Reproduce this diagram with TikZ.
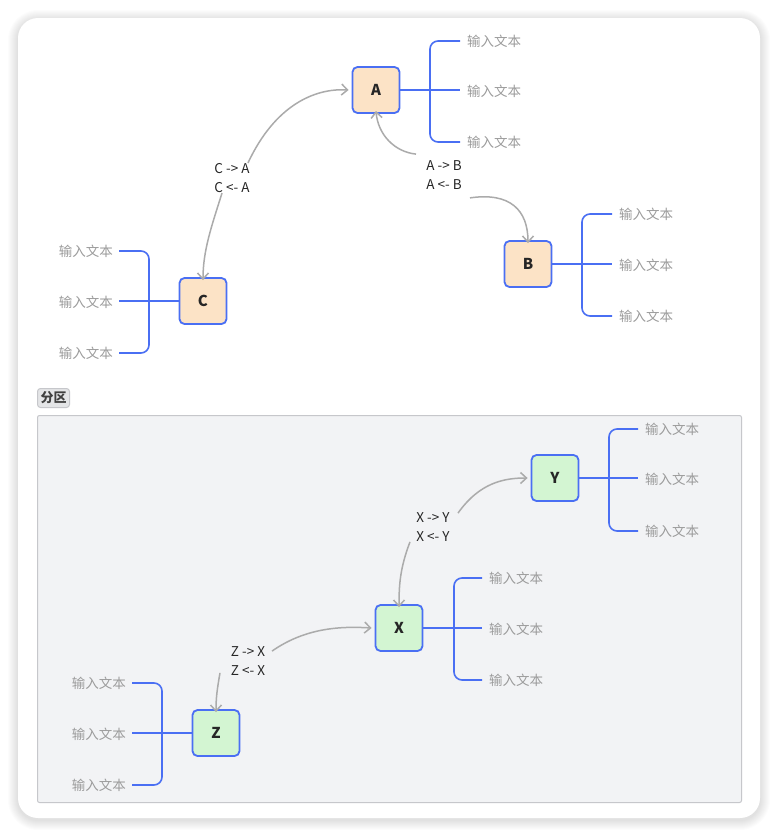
\documentclass[tikz,border=0pt]{standalone}
\usepackage{fontspec}
\setmainfont{Noto Sans CJK SC}
\usetikzlibrary{calc,arrows.meta}
\definecolor{bblue}{HTML}{4A6FF3}
\definecolor{peach}{HTML}{FCE3C6}
\definecolor{mint}{HTML}{D3F5D2}
\definecolor{tgray}{HTML}{9B9B9B}
\definecolor{agray}{HTML}{ABABAB}
\definecolor{secfill}{HTML}{F2F3F5}
\definecolor{secline}{HTML}{C6C7CB}
\tikzset{
  x=1pt,y=-1pt,
  topic/.style={draw=bblue,line width=1.8pt,rounded corners=5pt,minimum width=47pt,minimum height=46pt,inner sep=0pt,font=\fontsize{15}{17}\selectfont\bfseries,text=black!85},
  orange/.style={topic,fill=peach},
  green/.style={topic,fill=mint},
  leaf/.style={inner sep=0pt,text=tgray,font=\fontsize{13.5}{15}\selectfont},
  br/.style={draw=bblue,line width=1.6pt,rounded corners=8pt},
  brs/.style={draw=bblue,line width=1.6pt},
  rel/.style={draw=agray,line width=1.5pt,->,>={Straight Barb[length=6pt,width=11pt]}},
  rlabel/.style={inner sep=2pt,align=center,text=black!85,font=\fontsize{13.5}{19.5}\selectfont},
}
\begin{document}
\begin{tikzpicture}
\useasboundingbox (0,0) rectangle (778,836);
% shadow
\foreach \i in {1,...,10}{
  \fill[black,opacity=0.013,rounded corners={20pt+\i pt}] (18-\i,18-\i+2) rectangle (760+\i,818+\i+2);
}
\fill[white,rounded corners=20pt] (18,18) rectangle (760,818);
% section
\node[draw=secline,fill=secfill,line width=1pt,rounded corners=2pt,minimum width=704pt,minimum height=387pt,anchor=north west,inner sep=0pt] (sec) at (37,415) {};
\node[draw=secline,fill=secfill!88!gray,line width=1pt,rounded corners=3pt,inner xsep=3pt,inner ysep=2pt,minimum height=19pt,anchor=north west,font=\fontsize{13}{14}\selectfont\bfseries,text=black!75] (tag) at (37,388) {分区};

% topics
\node[orange] (A) at (376,90) {A};
\node[orange] (B) at (528,264) {B};
\node[orange] (C) at (203,301) {C};
\node[green] (Y) at (555,478) {Y};
\node[green] (X) at (399,628) {X};
\node[green] (Z) at (216,733) {Z};

% leaves right of A
\node[leaf,anchor=west] (a1) at (467,41) {输入文本};
\node[leaf,anchor=west] (a2) at (467,91) {输入文本};
\node[leaf,anchor=west] (a3) at (467,142) {输入文本};
\draw[br] ([xshift=-7pt]a1.west) -| (430,90) |- ([xshift=-7pt]a3.west);
\draw[brs] (A.east) -- ($(A.east -| a2.west)+(-7,0)$);
% B
\node[leaf,anchor=west] (b1) at (619,214) {输入文本};
\node[leaf,anchor=west] (b2) at (619,265) {输入文本};
\node[leaf,anchor=west] (b3) at (619,316) {输入文本};
\draw[br] ([xshift=-7pt]b1.west) -| (582,264) |- ([xshift=-7pt]b3.west);
\draw[brs] (B.east) -- ($(B.east -| b2.west)+(-7,0)$);
% C
\node[leaf,anchor=east] (c1) at (113,251) {输入文本};
\node[leaf,anchor=east] (c2) at (113,302) {输入文本};
\node[leaf,anchor=east] (c3) at (113,353) {输入文本};
\draw[br] ([xshift=6pt]c1.east) -| (149,301) |- ([xshift=6pt]c3.east);
\draw[brs] (C.west) -- ($(C.west -| c2.east)+(6,0)$);
% Y
\node[leaf,anchor=west] (y1) at (645,429) {输入文本};
\node[leaf,anchor=west] (y2) at (645,479) {输入文本};
\node[leaf,anchor=west] (y3) at (645,531) {输入文本};
\draw[br] ([xshift=-7pt]y1.west) -| (609,478) |- ([xshift=-7pt]y3.west);
\draw[brs] (Y.east) -- ($(Y.east -| y2.west)+(-7,0)$);
% X
\node[leaf,anchor=west] (x1) at (489,578) {输入文本};
\node[leaf,anchor=west] (x2) at (489,629) {输入文本};
\node[leaf,anchor=west] (x3) at (489,680) {输入文本};
\draw[br] ([xshift=-7pt]x1.west) -| (454,628) |- ([xshift=-7pt]x3.west);
\draw[brs] (X.east) -- ($(X.east -| x2.west)+(-7,0)$);
% Z
\node[leaf,anchor=east] (z1) at (126,683) {输入文本};
\node[leaf,anchor=east] (z2) at (126,734) {输入文本};
\node[leaf,anchor=east] (z3) at (126,785) {输入文本};
\draw[br] ([xshift=6pt]z1.east) -| (162,733) |- ([xshift=6pt]z3.east);
\draw[brs] (Z.west) -- ($(Z.west -| z2.east)+(6,0)$);

% relation labels
\node[rlabel] (lCA) at (232,178) {C -> A\\C <- A};
\node[rlabel] (lAB) at (444,175) {A -> B\\A <- B};
\node[rlabel] (lXY) at (433,527) {X -> Y\\X <- Y};
\node[rlabel] (lZX) at (248,661) {Z -> X\\Z <- X};

% relations
\coordinate (ca1) at ([xshift=16pt,yshift=-2pt]lCA.north);
\coordinate (ca2) at ([xshift=-10pt,yshift=2pt]lCA.south);
\draw[rel] (ca1) .. controls (275,105) and (315,88) .. ([xshift=-3pt]A.west);
\draw[rel] (ca2) .. controls (212,225) and (203,250) .. ([yshift=-3pt]C.north);

\coordinate (ab1) at ([xshift=-28pt,yshift=4pt]lAB.north);
\coordinate (ab2) at ([xshift=26pt,yshift=-6pt]lAB.south);
\draw[rel] (ab1) .. controls (395,152) and (378,135) .. ([yshift=3pt]A.south);
\draw[rel] (ab2) .. controls (510,192) and (528,210) .. ([yshift=-3pt]B.north);

\coordinate (xy1) at ([xshift=25pt,yshift=-3pt]lXY.north);
\coordinate (xy2) at ([xshift=-23pt,yshift=2pt]lXY.south);
\draw[rel] (xy1) .. controls (480,482) and (505,478) .. ([xshift=-3pt]Y.west);
\draw[rel] (xy2) .. controls (400,568) and (399,585) .. ([yshift=-3pt]X.north);

\coordinate (zx1) at ([xshift=24pt,yshift=-7pt]lZX.north);
\coordinate (zx2) at ([xshift=-28pt,yshift=5pt]lZX.south);
\draw[rel] (zx1) .. controls (305,628) and (340,626) .. ([xshift=-3pt]X.west);
\draw[rel] (zx2) .. controls (217,690) and (216,698) .. ([yshift=-3pt]Z.north);
\end{tikzpicture}
\end{document}
